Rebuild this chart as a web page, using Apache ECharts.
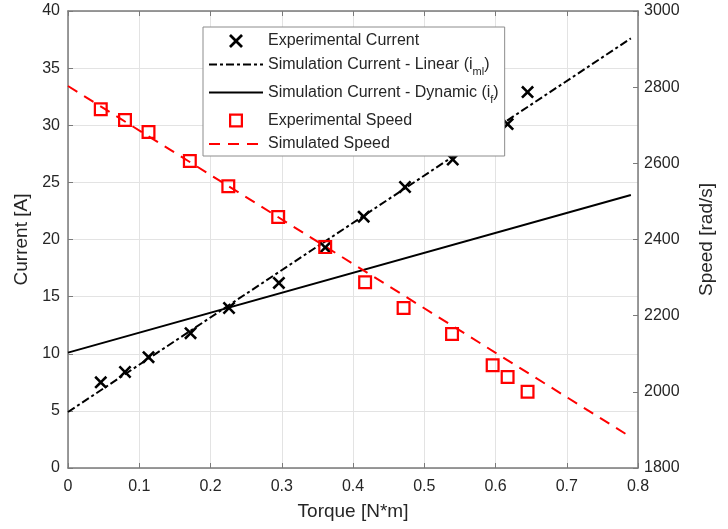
<!DOCTYPE html>
<html>
<head>
<meta charset="utf-8">
<script src="https://cdn.jsdelivr.net/npm/echarts@6/dist/echarts.min.js"></script>
<style>
  html, body { margin: 0; padding: 0; background: #fff; }
  #chart { width: 728px; height: 529px; }
</style>
</head>
<body>
<div id="chart"></div>
<script>
// Measured torque / current points
const currentTorque = [0.046, 0.080, 0.113, 0.172, 0.226, 0.296, 0.361, 0.415, 0.473, 0.540, 0.617, 0.645];
const currentAmps   = [7.5, 8.4, 9.7, 11.8, 14.0, 16.2, 19.3, 22.0, 24.6, 27.0, 30.1, 32.9];

// Measured torque / speed points
const speedTorque = [0.046, 0.080, 0.113, 0.171, 0.225, 0.295, 0.361, 0.417, 0.471, 0.539, 0.596, 0.617, 0.645];
const speedRad    = [2742, 2714, 2682, 2606, 2540, 2459, 2380, 2288, 2220, 2152, 2070, 2039, 2000];

// Simulated straight-line models (end points)
const simTorque    = [0, 0.79];
const linearAmps   = [4.9, 37.6];
const dynamicAmps  = [10.1, 23.9];
const simSpeedRad  = [2803, 1881];

// Axis ticks
const torqueTicks  = [0, 0.1, 0.2, 0.3, 0.4, 0.5, 0.6, 0.7, 0.8];
const currentTicks = [0, 5, 10, 15, 20, 25, 30, 35, 40];
const speedTicks   = [1800, 2000, 2200, 2400, 2600, 2800, 3000];

const seriesNames = [
  'Experimental Current',
  'Simulation Current - Linear (iml)',
  'Simulation Current - Dynamic (if)',
  'Experimental Speed',
  'Simulated Speed'
];

const FONT = '"Liberation Sans", Arial, Helvetica, sans-serif';
const TXT = '#262626';
const AXIS = '#7a7a7a';
const GRID = '#e3e3e3';

const pairs = (xs, ys) => xs.map((x, i) => [x, ys[i]]);

const crossPath = 'path://M0,1.4L1.4,0L5,3.6L8.6,0L10,1.4L6.4,5L10,8.6L8.6,10L5,6.4L1.4,10L0,8.6L3.6,5Z';
const hollowSquare = 'path://M0,0L10,0L10,10L0,10Z M1.6,1.6L1.6,8.4L8.4,8.4L8.4,1.6Z';

const chart = echarts.init(document.getElementById('chart'), null, { renderer: 'canvas' });

const commonAxisLine = { show: true, onZero: false, lineStyle: { color: AXIS, width: 1.5 } };
const commonTick = { show: true, inside: true, length: 5, lineStyle: { color: AXIS, width: 1 } };
const commonLabel = { fontFamily: FONT, fontSize: 16, color: TXT, formatter: v => String(v) };
const titleStyle = { fontFamily: FONT, fontSize: 19, color: TXT };

// Line-only legend entries: hide the marker drawn on top of the line sample
const lineOnly = { opacity: 0 };

chart.setOption({
  animation: false,
  backgroundColor: '#ffffff',
  textStyle: { fontFamily: FONT },
  grid: { left: 68, right: 90, top: 11, bottom: 61, containLabel: false },
  legend: {
    orient: 'vertical',
    left: 203,
    top: 27,
    data: [
      { name: seriesNames[0] },
      { name: seriesNames[1], itemStyle: lineOnly },
      { name: seriesNames[2], itemStyle: lineOnly },
      { name: seriesNames[3] },
      { name: seriesNames[4], itemStyle: lineOnly }
    ],
    backgroundColor: '#ffffff',
    borderColor: '#8c8c8c',
    borderWidth: 1,
    borderRadius: 0,
    padding: [6, 6, 4, 5],
    itemWidth: 54,
    itemHeight: 14,
    itemGap: 3,
    selectedMode: false,
    textStyle: {
      fontFamily: FONT, fontSize: 16, color: TXT,
      rich: {
        t: { fontFamily: FONT, fontSize: 16, color: TXT, verticalAlign: 'middle' },
        s: { fontFamily: FONT, fontSize: 11, color: TXT, lineHeight: 12, padding: [14, 0, 0, 0], verticalAlign: 'middle' },
        g: { fontFamily: FONT, fontSize: 11, color: TXT, lineHeight: 12, padding: [14, 0, 0, 0], verticalAlign: 'middle' }
      }
    },
    formatter: function (name) {
      if (name === seriesNames[1]) return '{t|Simulation Current - Linear (i}{s|ml}{t|)}';
      if (name === seriesNames[2]) return '{t|Simulation Current - Dynamic (i}{s|f}{t|)}';
      if (name === seriesNames[3]) return '{t|' + name + '}{g|\u200b}';
      return '{t|' + name + '}';
    }
  },
  xAxis: [
    {
      type: 'value', position: 'bottom', min: torqueTicks[0], max: torqueTicks[torqueTicks.length - 1],
      interval: 0.1,
      name: 'Torque [N*m]', nameLocation: 'middle', nameGap: 34,
      nameTextStyle: titleStyle,
      axisLine: commonAxisLine, axisTick: commonTick,
      axisLabel: Object.assign({ margin: 11 }, commonLabel),
      splitLine: { show: true, lineStyle: { color: GRID, width: 1 } }
    },
    {
      type: 'value', position: 'top', min: torqueTicks[0], max: torqueTicks[torqueTicks.length - 1],
      interval: 0.1,
      axisLine: commonAxisLine, axisTick: commonTick,
      axisLabel: { show: false }, splitLine: { show: false }
    }
  ],
  yAxis: [
    {
      type: 'value', position: 'left', min: currentTicks[0], max: currentTicks[currentTicks.length - 1],
      interval: 5,
      name: 'Current [A]', nameLocation: 'middle', nameGap: 35, nameRotate: 90,
      nameTextStyle: titleStyle,
      axisLine: commonAxisLine, axisTick: commonTick,
      axisLabel: Object.assign({ margin: 8 }, commonLabel),
      splitLine: { show: true, lineStyle: { color: GRID, width: 1 } }
    },
    {
      type: 'value', position: 'right', min: speedTicks[0], max: speedTicks[speedTicks.length - 1],
      interval: 200,
      name: 'Speed [rad/s]', nameLocation: 'middle', nameGap: 59, nameRotate: 90,
      nameTextStyle: titleStyle,
      axisLine: commonAxisLine, axisTick: commonTick,
      axisLabel: Object.assign({ margin: 6 }, commonLabel),
      splitLine: { show: false }
    }
  ],
  series: [
    {
      name: seriesNames[0], type: 'scatter', xAxisIndex: 0, yAxisIndex: 0,
      symbol: crossPath, symbolSize: 13, symbolKeepAspect: true,
      itemStyle: { color: '#000000', opacity: 1 },
      data: pairs(currentTorque, currentAmps), z: 3
    },
    {
      name: seriesNames[1], type: 'line', xAxisIndex: 0, yAxisIndex: 0,
      symbol: 'none', showSymbol: false,
      lineStyle: { color: '#000000', width: 2, type: [8, 3, 3, 3] },
      itemStyle: { color: '#000000' },
      data: pairs(simTorque, linearAmps), z: 2
    },
    {
      name: seriesNames[2], type: 'line', xAxisIndex: 0, yAxisIndex: 0,
      symbol: 'none', showSymbol: false,
      lineStyle: { color: '#000000', width: 2, type: 'solid' },
      itemStyle: { color: '#000000' },
      data: pairs(simTorque, dynamicAmps), z: 2
    },
    {
      name: seriesNames[3], type: 'scatter', xAxisIndex: 0, yAxisIndex: 1,
      symbol: hollowSquare, symbolSize: 14, symbolKeepAspect: true,
      itemStyle: { color: '#ff0000', opacity: 1 },
      data: pairs(speedTorque, speedRad), z: 3
    },
    {
      name: seriesNames[4], type: 'line', xAxisIndex: 0, yAxisIndex: 1,
      symbol: 'none', showSymbol: false,
      lineStyle: { color: '#ff0000', width: 2, type: [11, 8] },
      itemStyle: { color: '#ff0000' },
      data: pairs(simTorque, simSpeedRad), z: 2
    }
  ]
});
</script>
</body>
</html>
